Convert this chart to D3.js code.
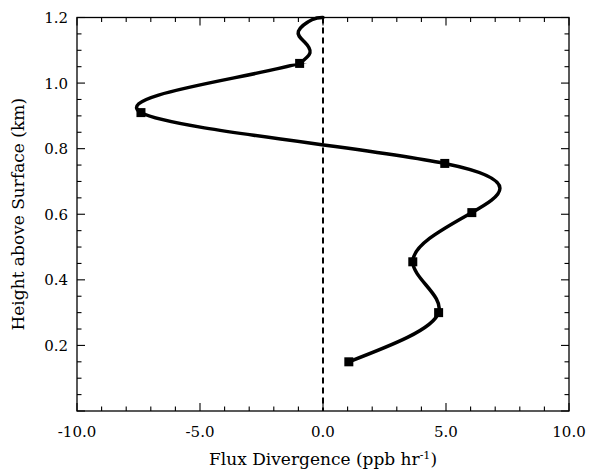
<!DOCTYPE html>
<html>
<head>
<meta charset="utf-8">
<script src="https://cdn.jsdelivr.net/npm/d3@7"></script>
<style>
  body { margin: 0; background: #fff; }
  text { font-family: "DejaVu Serif", "Liberation Serif", serif; }
</style>
</head>
<body>
<div id="chart"></div>
<script>
// flux divergence profile (ppb/hr) against height (km), squares = levels
const heights = [0.15, 0.30, 0.455, 0.605, 0.755, 0.91, 1.06];
const fluxDiv = [1.05, 4.7, 3.65, 6.05, 4.95, -7.4, -0.95];
const endHeight = 1.2, endFlux = 0.0;
// curve above the last level
const topHeights = [1.06, 1.092, 1.125, 1.158, 1.193, 1.2];
const topFlux = [-0.95, -0.53, -0.75, -1.0, -0.45, 0.0];
const xTicks = [-10, -5, 0, 5, 10];
const yTicks = [0.2, 0.4, 0.6, 0.8, 1.0, 1.2];

const w = 589, h = 470;
const margin = { left: 77, right: 20, top: 17.5, bottom: 59 };

const svg = d3.select("#chart").append("svg")
  .attr("width", w)
  .attr("height", h);

const x = d3.scaleLinear().domain([-10, 10]).range([margin.left, w - margin.right]);
const y = d3.scaleLinear().domain([0, 1.2]).range([h - margin.bottom, margin.top]);

const pts = heights.map((v, i) => ({ h: v, f: fluxDiv[i] }));
const mainPts = pts.concat([{ h: endHeight, f: endFlux }]);
const topPts = topHeights.map((v, i) => ({ h: v, f: topFlux[i] }));

// box
svg.append("rect")
  .attr("x", x(-10)).attr("y", y(1.2))
  .attr("width", x(10) - x(-10)).attr("height", y(0) - y(1.2))
  .style("fill", "none").style("stroke", "#000").style("stroke-width", 1.3);

// ticks, all four sides
const xMinor = d3.range(-10, 10.001, 1);
const yMinor = d3.range(0, 1.2001, 0.05);
const isMajorX = v => Math.abs(v % 5) < 1e-6;
const isMajorY = v => Math.abs(Math.round(v * 5) - v * 5) < 1e-6;

xMinor.forEach(v => {
  const len = isMajorX(v) ? 8 : 4.5;
  svg.append("line").attr("x1", x(v)).attr("x2", x(v))
    .attr("y1", y(0)).attr("y2", y(0) - len)
    .style("stroke", "#000").style("stroke-width", 1.1);
  svg.append("line").attr("x1", x(v)).attr("x2", x(v))
    .attr("y1", y(1.2)).attr("y2", y(1.2) + len)
    .style("stroke", "#000").style("stroke-width", 1.1);
});
yMinor.forEach(v => {
  const len = isMajorY(v) ? 8 : 4.5;
  svg.append("line").attr("x1", x(-10)).attr("x2", x(-10) + len)
    .attr("y1", y(v)).attr("y2", y(v))
    .style("stroke", "#000").style("stroke-width", 1.1);
  svg.append("line").attr("x1", x(10)).attr("x2", x(10) - len)
    .attr("y1", y(v)).attr("y2", y(v))
    .style("stroke", "#000").style("stroke-width", 1.1);
});

// tick labels
svg.selectAll(".xl").data(xTicks).enter().append("text")
  .attr("x", d => x(d)).attr("y", 437)
  .attr("text-anchor", "middle")
  .attr("font-size", "15px")
  .text(d => d.toFixed(1));
svg.selectAll(".yl").data(yTicks).enter().append("text")
  .attr("x", 68).attr("y", d => y(d) + 5.5)
  .attr("text-anchor", "end")
  .attr("font-size", "15px")
  .text(d => d.toFixed(1));

// axis titles
const xt = svg.append("text")
  .attr("x", x(0)).attr("y", 465)
  .attr("text-anchor", "middle")
  .attr("font-size", "17px");
xt.append("tspan").text("Flux Divergence (ppb hr");
xt.append("tspan").attr("dy", -6).attr("font-size", "11px").text("-1");
xt.append("tspan").attr("dy", 6).text(")");

svg.append("text")
  .attr("transform", `translate(24, ${(y(0) + y(1.2)) / 2}) rotate(-90)`)
  .attr("text-anchor", "middle")
  .attr("font-size", "17px")
  .text("Height above Surface (km)");

// zero line
svg.append("line")
  .attr("x1", x(0)).attr("x2", x(0))
  .attr("y1", y(1.2)).attr("y2", y(0))
  .style("stroke", "#000").style("stroke-width", 2)
  .style("stroke-dasharray", "6,4");

// profile curve: main spline shown below the top level, top piece on its own
svg.append("clipPath").attr("id", "below")
  .append("rect")
  .attr("x", 0).attr("y", y(heights[heights.length - 1]))
  .attr("width", w).attr("height", h);

const line = d3.line()
  .x(d => x(d.f))
  .y(d => y(d.h))
  .curve(d3.curveNatural);

svg.append("path")
  .datum(mainPts)
  .attr("d", line)
  .attr("clip-path", "url(#below)")
  .style("fill", "none")
  .style("stroke", "#000")
  .style("stroke-width", 3.5);

svg.append("path")
  .datum(topPts)
  .attr("d", line)
  .style("fill", "none")
  .style("stroke", "#000")
  .style("stroke-width", 3.5)
  .style("stroke-linecap", "round");

const sq = 9;
svg.selectAll(".mk").data(pts).enter().append("rect")
  .attr("x", d => x(d.f) - sq / 2)
  .attr("y", d => y(d.h) - sq / 2)
  .attr("width", sq).attr("height", sq)
  .style("fill", "#000");
</script>
</body>
</html>
